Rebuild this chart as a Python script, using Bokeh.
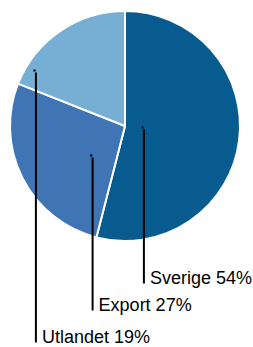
import math
from bokeh.plotting import figure
from bokeh.models import ColumnDataSource, Range1d
from bokeh.core.properties import value
from bokeh.embed import file_html
from bokeh.resources import INLINE

# ---- data ----
categories = ["Sverige", "Export", "Utlandet"]
shares = [54, 27, 19]
colors = ["#075B8F", "#3F75B5", "#77AFD4"]
labels = [f"{c} {v}%" for c, v in zip(categories, shares)]

# ---- layout (pixels) ----
W, H = 253, 347
CX, CY = 124.5, 125.5      # pie centre
R = 115.0                  # pie radius in px
anchor_px = [(142.0, 127.0), (90.7, 155.0), (34.0, 70.0)]
label_bottom_px = [283.0, 310.0, 342.0]
text_gap_px = 6.0
font_px = 18.0


def dx(px):
    return (px - CX) / R


def dy(py):
    return (CY - py) / R


total = float(sum(shares))
starts, ends = [], []
cum = 0.0
for v in shares:
    starts.append(math.pi / 2 - 2 * math.pi * cum / total)
    cum += v
    ends.append(math.pi / 2 - 2 * math.pi * cum / total)

src = ColumnDataSource(dict(start=starts, end=ends, color=colors, label=labels))

p = figure(width=W, height=H,
           x_range=Range1d(dx(0), dx(W)), y_range=Range1d(dy(H), dy(0)),
           output_backend="svg", toolbar_location=None, min_border=0)
p.axis.visible = False
p.grid.visible = False
p.outline_line_color = None
p.background_fill_color = "white"
p.border_fill_color = "white"

p.wedge(x=0, y=0, radius=1.0, start_angle="start", end_angle="end",
        direction="clock", fill_color="color", line_color="white",
        line_width=2, source=src)

lx = [dx(a[0] + 1.4) for a in anchor_px]
ly0 = [dy(a[1] + 2.0) for a in anchor_px]
ly1 = [dy(b) for b in label_bottom_px]
p.segment(x0=lx, y0=ly0, x1=lx, y1=ly1, line_color="black", line_width=2,
          line_cap="butt")
p.scatter(x=[dx(a[0]) for a in anchor_px], y=[dy(a[1]) for a in anchor_px],
          marker="square", size=2.2, fill_color="black", line_color=None)

# text centred vertically on the cap height above the baseline
p.text(x=[dx(a[0] + 1.4 + text_gap_px) for a in anchor_px],
       y=[dy(b + 0.5 - 0.36 * font_px) for b in label_bottom_px], text=labels,
       text_font=value("Liberation Sans"), text_font_size=f"{int(font_px)}px",
       text_baseline="middle", text_align="left", text_color="black")

open("out.html", "w").write(file_html(p, INLINE))
